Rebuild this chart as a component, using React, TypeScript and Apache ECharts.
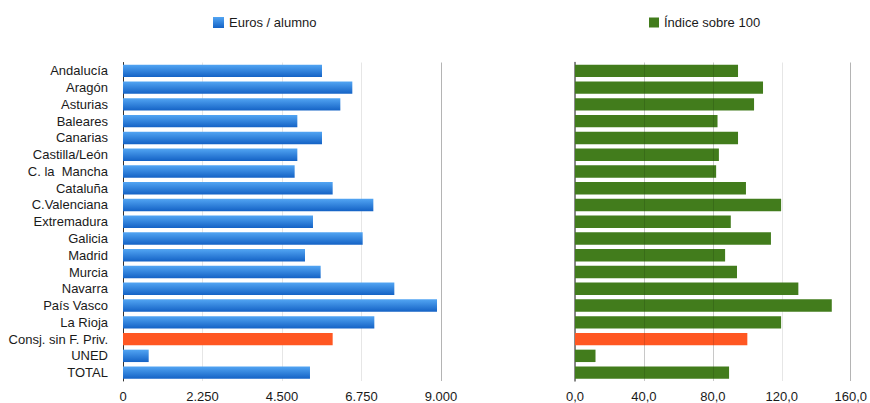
import React, { useEffect, useRef } from "react";
import * as echarts from "echarts";

const categories = [
  "Andalucía", "Aragón", "Asturias", "Baleares", "Canarias", "Castilla/León",
  "C. la  Mancha", "Cataluña", "C.Valenciana", "Extremadura", "Galicia", "Madrid",
  "Murcia", "Navarra", "País Vasco", "La Rioja", "Consj. sin F. Priv.", "UNED", "TOTAL",
];
const eurosAlumno = [
  5632, 6490, 6151, 4934, 5632, 4934, 4858, 5934, 7085, 5377, 6783, 5151,
  5594, 7679, 8887, 7113, 5934, 727, 5292,
];
const indice = [
  94.6, 109.1, 103.9, 82.7, 94.6, 83.5, 81.9, 99.2, 119.6, 90.4, 113.7, 87.1,
  94.0, 129.6, 149.0, 119.6, 100.0, 11.9, 89.4,
];
const highlightIndex = 16;
const leftTicks = ["0", "2.250", "4.500", "6.750", "9.000"];
const rightTicks = ["0,0", "40,0", "80,0", "120,0", "160,0"];

export default function App() {
  const ref = useRef<HTMLDivElement>(null);
  useEffect(() => {
    if (!ref.current) return;
    const chart = echarts.init(ref.current, undefined, { renderer: "svg" });
    const font = "'Liberation Sans', Helvetica, Arial, sans-serif";
    const blue = new echarts.graphic.LinearGradient(0, 0, 0, 1, [
      { offset: 0, color: "#52a5f3" },
      { offset: 1, color: "#1462c5" },
    ]);
    const orange = "#ff5722";
    const green = "#427c1c";
    const gridCol = "#e6e6e6";
    chart.setOption({
      animation: false,
      textStyle: { fontFamily: font },
      legend: [
        {
          data: ["Euros / alumno"],
          left: 208,
          top: 11,
          itemWidth: 11,
          itemHeight: 11,
          icon: "rect",
          itemGap: 6,
          textStyle: { fontSize: 13, color: "#1a1a1a", fontFamily: font },
        },
        {
          data: ["Índice sobre 100"],
          left: 644,
          top: 11,
          itemWidth: 10,
          itemHeight: 10,
          icon: "rect",
          textStyle: { fontSize: 13, color: "#1a1a1a", fontFamily: font },
        },
      ],
      grid: [
        { left: 123, right: 429, top: 62.5, height: 320 },
        { left: 575, right: 18, top: 62.5, height: 320 },
      ],
      xAxis: [
        {
          type: "value",
          gridIndex: 0,
          min: 0,
          max: 9000,
          interval: 2250,
          axisLine: { show: false },
          axisTick: { show: false },
          axisLabel: {
            fontSize: 13,
            color: "#1a1a1a",
            margin: 9,
            fontFamily: font,
            formatter: (v: number) => leftTicks[Math.round(v / 2250)] ?? "",
          },
          splitLine: {
            show: true,
            lineStyle: { color: ["#ddd", gridCol, gridCol, gridCol, "#b4b4b4"], width: 1 },
          },
        },
        {
          type: "value",
          gridIndex: 1,
          min: 0,
          max: 160,
          interval: 40,
          axisLine: { show: false },
          axisTick: { show: false },
          axisLabel: {
            fontSize: 13,
            color: "#1a1a1a",
            margin: 9,
            fontFamily: font,
            formatter: (v: number) => rightTicks[Math.round(v / 40)] ?? "",
          },
          splitLine: {
            show: true,
            lineStyle: { color: ["#ddd", gridCol, gridCol, gridCol, "#b4b4b4"], width: 1 },
          },
        },
      ],
      yAxis: [
        {
          type: "category",
          gridIndex: 0,
          data: categories,
          inverse: true,
          axisLine: { show: true, lineStyle: { color: "#333", width: 1 } },
          axisTick: { show: false },
          axisLabel: { fontSize: 13, color: "#1a1a1a", margin: 15, fontFamily: font, interval: 0 },
        },
        {
          type: "category",
          gridIndex: 1,
          data: categories,
          inverse: true,
          axisLine: { show: true, lineStyle: { color: "#666", width: 1.5 } },
          axisTick: { show: false },
          axisLabel: { show: false },
        },
      ],
      series: [
        {
          name: "Euros / alumno",
          type: "bar",
          xAxisIndex: 0,
          yAxisIndex: 0,
          barCategoryGap: "26%",
          itemStyle: { color: blue },
          data: eurosAlumno.map((v, i) =>
            i === highlightIndex ? { value: v, itemStyle: { color: orange } } : v
          ),
        },
        {
          name: "Índice sobre 100",
          type: "bar",
          xAxisIndex: 1,
          yAxisIndex: 1,
          barCategoryGap: "26%",
          itemStyle: { color: green },
          data: indice.map((v, i) =>
            i === highlightIndex ? { value: v, itemStyle: { color: orange } } : v
          ),
          markLine: {
            silent: true,
            symbol: "none",
            label: { show: false },
            lineStyle: { color: "rgba(0,0,0,0.13)", type: "solid", width: 1 },
            data: [{ xAxis: 40 }, { xAxis: 80 }],
          },
        },
      ],
    });
    return () => chart.dispose();
  }, []);
  return (
    <div
      ref={ref}
      style={{ position: "absolute", left: 0, top: 0, width: 870, height: 403 }}
    />
  );
}
